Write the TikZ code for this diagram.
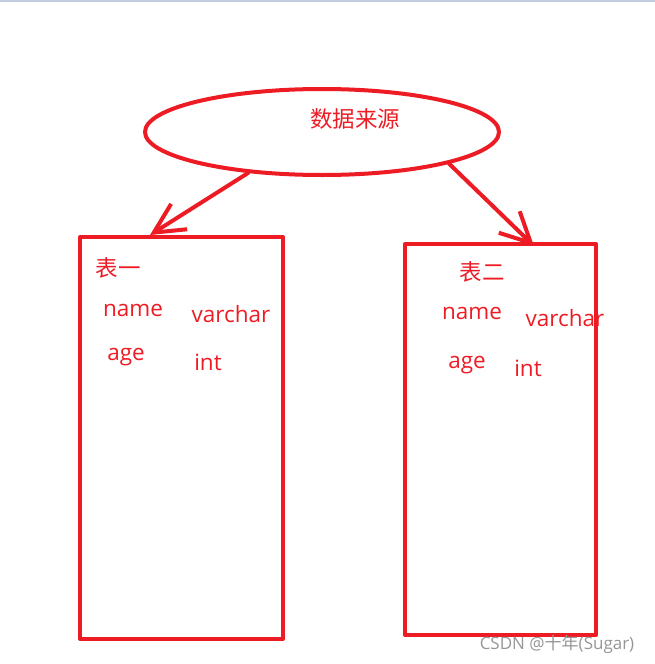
\documentclass[tikz,border=0pt]{standalone}
\usepackage{fontspec}
\setmainfont{Open Sans}
\newfontfamily\cjk{Noto Sans CJK SC}
\usepackage{xcolor}
\usetikzlibrary{shapes.geometric,arrows.meta}
\definecolor{paintred}{RGB}{237,28,36}
\definecolor{topline}{RGB}{196,205,222}
\definecolor{markgray}{RGB}{150,150,150}

\begin{document}
\begin{tikzpicture}[x=1pt,y=-1pt,>={Straight Barb[length=30pt,width=30pt]},
                    line cap=round,line join=round,
                    every node/.style={text=paintred,inner sep=0pt,font=\fontsize{22.5}{26}\selectfont},
                    source/.style={ellipse,draw=paintred,line width=4pt,minimum width=354pt,minimum height=86pt},
                    tbl/.style={rectangle,draw=paintred,line width=4pt},
                    link/.style={->,draw=paintred,line width=4pt}]
    \useasboundingbox (0,0) rectangle (655,664);
    \fill[topline] (0,0) rectangle (655,2);

    \node[source] (src) at (322,132) {};
    \node (srctext) at (355,119) {\cjk 数据来源};

    \node[tbl,minimum width=203pt,minimum height=402pt] (tbl1) at (181.5,438) {};
    \node[tbl,minimum width=191pt,minimum height=391pt] (tbl2) at (500.5,439.5) {};

    % table one
    \node (t1name) at (118,268) {\cjk 表一};
    \node (t1c1)   at (133,310) {name};
    \node (t1c1t)  at (231,314) {varchar};
    \node (t1c2)   at (126,357) {age};
    \node (t1c2t)  at (208,362) {int};

    % table two
    \node (t2name) at (482,272) {\cjk 表二};
    \node (t2c1)   at (472,313) {name};
    \node (t2c1t)  at (565,318) {varchar};
    \node (t2c2)   at (467,365) {age};
    \node (t2c2t)  at (528,368) {int};

    \draw[link] (src.209) -- ([xshift=72pt]tbl1.north west);
    \draw[link] (src.-14) -- ([xshift=131pt,yshift=-4pt]tbl2.north west);

    \node[text=markgray,font=\fontsize{17}{20}\selectfont] (mark) at (557,644) {CSDN @{\cjk 十年}(Sugar)};
\end{tikzpicture}
\end{document}
